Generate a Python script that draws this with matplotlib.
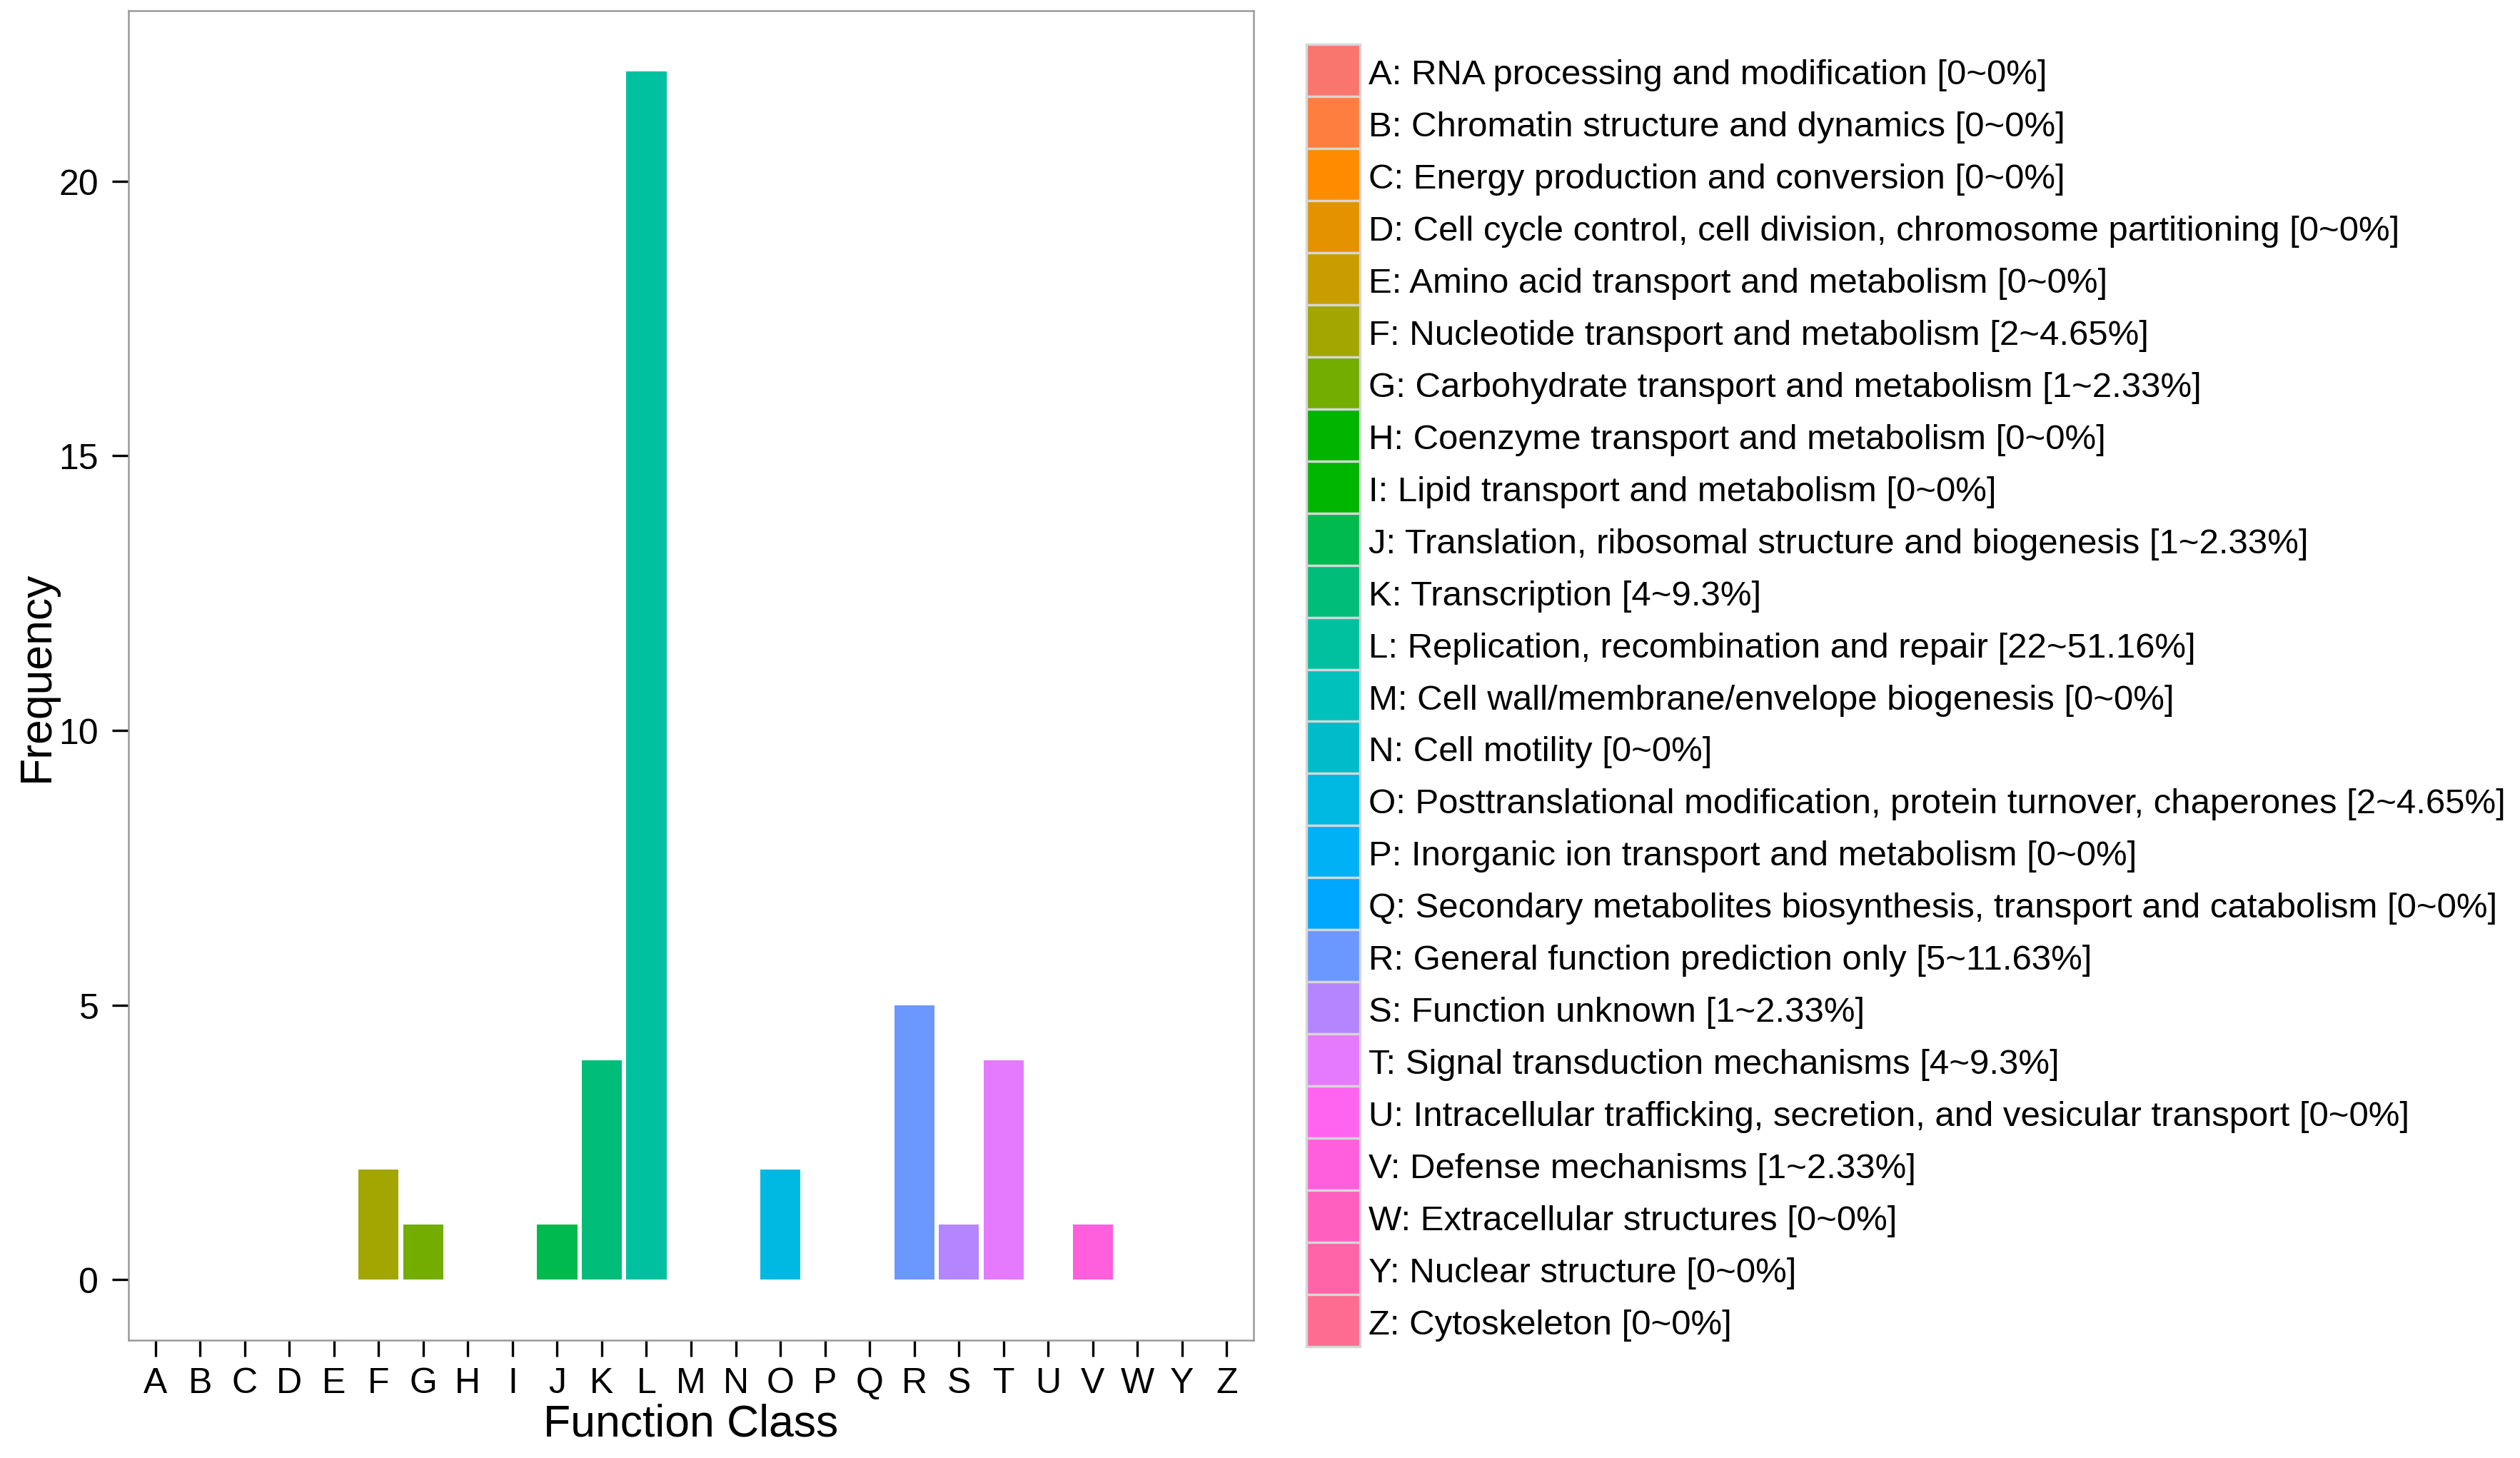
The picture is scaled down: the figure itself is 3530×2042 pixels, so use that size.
import numpy as np
import matplotlib
matplotlib.use("Agg")
import matplotlib.pyplot as plt
from matplotlib.patches import Rectangle

plt.rcParams['font.family'] = ['Liberation Sans', 'DejaVu Sans']

categories = list("ABCDEFGHIJKLMNOPQRSTUVWYZ")
frequency = [0, 0, 0, 0, 0, 2, 1, 0, 0, 1, 4, 22, 0, 0, 2, 0, 0, 5, 1, 4, 0, 1, 0, 0, 0]
legend_labels = [
    "A: RNA processing and modification [0~0%]",
    "B: Chromatin structure and dynamics [0~0%]",
    "C: Energy production and conversion [0~0%]",
    "D: Cell cycle control, cell division, chromosome partitioning [0~0%]",
    "E: Amino acid transport and metabolism [0~0%]",
    "F: Nucleotide transport and metabolism [2~4.65%]",
    "G: Carbohydrate transport and metabolism [1~2.33%]",
    "H: Coenzyme transport and metabolism [0~0%]",
    "I: Lipid transport and metabolism [0~0%]",
    "J: Translation, ribosomal structure and biogenesis [1~2.33%]",
    "K: Transcription [4~9.3%]",
    "L: Replication, recombination and repair [22~51.16%]",
    "M: Cell wall/membrane/envelope biogenesis [0~0%]",
    "N: Cell motility [0~0%]",
    "O: Posttranslational modification, protein turnover, chaperones [2~4.65%]",
    "P: Inorganic ion transport and metabolism [0~0%]",
    "Q: Secondary metabolites biosynthesis, transport and catabolism [0~0%]",
    "R: General function prediction only [5~11.63%]",
    "S: Function unknown [1~2.33%]",
    "T: Signal transduction mechanisms [4~9.3%]",
    "U: Intracellular trafficking, secretion, and vesicular transport [0~0%]",
    "V: Defense mechanisms [1~2.33%]",
    "W: Extracellular structures [0~0%]",
    "Y: Nuclear structure [0~0%]",
    "Z: Cytoskeleton [0~0%]",
]
colors = [
    "#F8766D", "#FD7E3E", "#FF8B00", "#E49200", "#C99D00",
    "#A3A500", "#72AD00", "#00B400", "#00B600", "#00BA4E",
    "#00BD79", "#00C19F", "#00C1BB", "#00BCCB", "#00B9E3",
    "#00B2F5", "#00A7FF", "#6A98FF", "#B386FF", "#E57AFF",
    "#FF64F0", "#FF5EDC", "#FF5FBF", "#FF63A8", "#FF6C91",
]
y_ticks = [0, 5, 10, 15, 20]

W, H, DPI = 3530, 2043, 300
fig = plt.figure(figsize=(W / DPI, H / DPI), dpi=DPI)

# main panel (pixel layout)
left, right, top, bottom = 180, 1756, 16, 1878
ax = fig.add_axes([left / W, 1 - bottom / H, (right - left) / W, (bottom - top) / H])
n = len(categories)
x = np.arange(n)
ax.bar(x, frequency, width=0.9, color=colors, edgecolor='none')
ax.set_xlim(-0.6, n - 1 + 0.6)
ymax = max(frequency)
ax.set_ylim(-0.05 * ymax, ymax * 1.05)
ax.set_xticks(x)
ax.set_xticklabels(categories)
ax.set_yticks(y_ticks)
ax.tick_params(axis='both', length=5.5, width=0.8, color='black', labelsize=12,
               labelcolor='black')
ax.tick_params(axis='x', pad=3.5)
ax.tick_params(axis='y', pad=4.5)
for s in ax.spines.values():
    s.set_color('#9a9a9a')
    s.set_linewidth(0.6)

fig.text(((left + right) / 2) / W, 1 - 1995 / H, 'Function Class', fontsize=15,
         ha='center', va='center')
fig.text(51 / W, 1 - ((top + bottom) / 2) / H, 'Frequency', fontsize=15,
         ha='center', va='center', rotation=90)

# legend
lx0, ly0, ly1 = 1830, 63, 1887
key_w = 75
lax = fig.add_axes([0, 0, 1, 1])
lax.set_xlim(0, W)
lax.set_ylim(H, 0)
lax.axis('off')
key_h = (ly1 - ly0) / n
for i, (c, lab) in enumerate(zip(colors, legend_labels)):
    y0 = ly0 + i * key_h
    lax.add_patch(Rectangle((lx0, y0), key_w, key_h, facecolor=c,
                            edgecolor='#d6d6d6', linewidth=0.8))
    lax.text(lx0 + key_w + 12, y0 + key_h / 2 + 6, lab, fontsize=11.8,
             va='center', ha='left', color='black')

fig.savefig('out.png', dpi=DPI, facecolor='white')
